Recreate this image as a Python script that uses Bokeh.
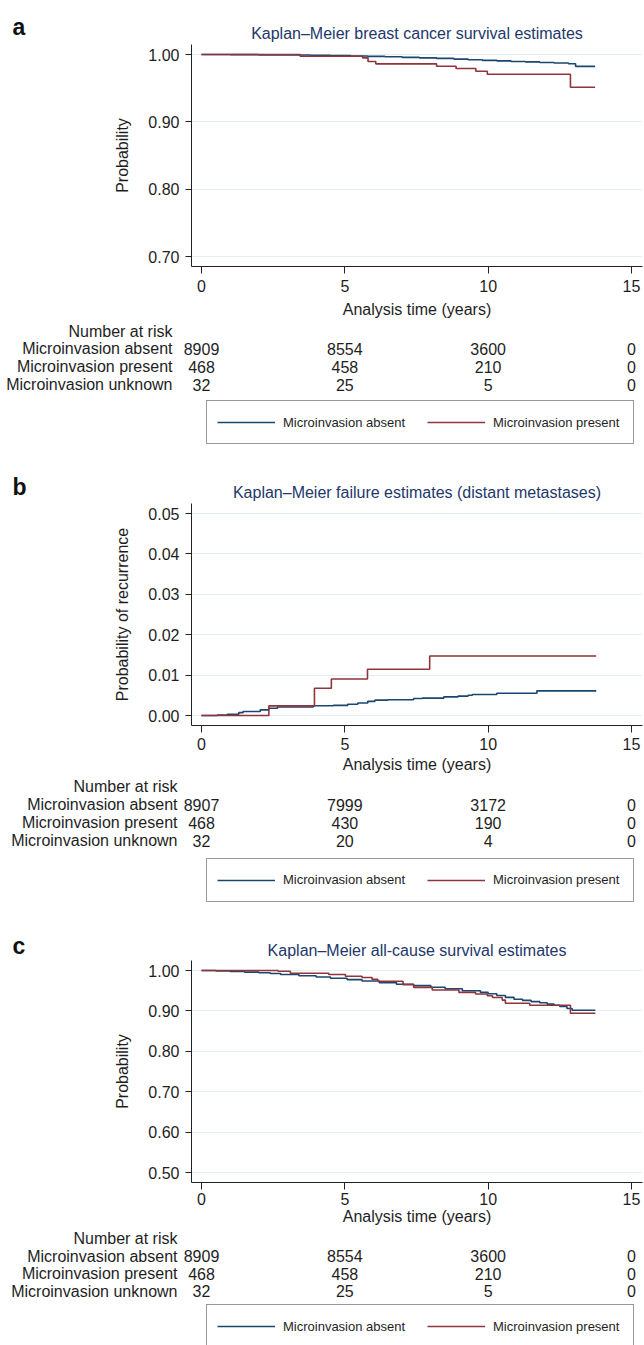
from bokeh.plotting import figure
from bokeh.models import Legend, LegendItem, FixedTicker, PrintfTickFormatter, Range1d
from bokeh.core.properties import value
from bokeh.layouts import column
from bokeh.embed import file_html
from bokeh.resources import INLINE

# ---------------- data ----------------
X_TICKS = [0, 5, 10, 15]
RISK_TIMES = [0, 5, 10, 15]
GROUPS = ["Microinvasion absent", "Microinvasion present", "Microinvasion unknown"]
LEGEND_LABELS = ["Microinvasion absent", "Microinvasion present"]
X_LABEL = "Analysis time (years)"
RISK_HEADER = "Number at risk"

# Panel a: breast cancer survival
A_TITLE = "Kaplan\u2013Meier breast cancer survival estimates"
A_YLABEL = "Probability"
A_YTICKS = [0.70, 0.80, 0.90, 1.00]
A_ABSENT_T = [0, 1.0, 2.0, 3.0, 3.8, 4.5, 5.2, 5.8, 6.4, 7.0, 7.6, 8.2, 8.8, 9.3, 9.8,
              10.3, 10.8, 11.3, 11.8, 12.3, 12.8, 13.05, 13.73]
A_ABSENT_S = [1.0, 0.9998, 0.9995, 0.9992, 0.9988, 0.9984, 0.9978, 0.9972, 0.9966, 0.9958,
              0.9950, 0.9942, 0.9932, 0.9922, 0.9913, 0.9905, 0.9897, 0.9890, 0.9882,
              0.9873, 0.9862, 0.9823, 0.9823]
A_PRESENT_T = [0, 3.44, 5.62, 5.81, 6.08, 8.20, 8.88, 9.57, 9.97, 12.87, 13.73]
A_PRESENT_S = [1.0, 0.9975, 0.9950, 0.9896, 0.9861, 0.9826, 0.9792, 0.9752, 0.9707, 0.9514, 0.9514]
A_RISK_ABSENT = [8909, 8554, 3600, 0]
A_RISK_PRESENT = [468, 458, 210, 0]
A_RISK_UNKNOWN = [32, 25, 5, 0]

# Panel b: failure (distant metastases)
B_TITLE = "Kaplan\u2013Meier failure estimates (distant metastases)"
B_YLABEL = "Probability of recurrence"
B_YTICKS = [0.00, 0.01, 0.02, 0.03, 0.04, 0.05]
B_ABSENT_T = [0, 0.55, 0.9, 1.3, 1.45, 2.05, 2.35, 2.65, 3.9, 4.6, 5.1, 5.45, 5.8, 6.05,
              6.5, 7.4, 7.7, 8.45, 8.95, 9.3, 9.45, 10.3, 11.7, 13.77]
B_ABSENT_F = [0.0, 0.0001, 0.0003, 0.0007, 0.0010, 0.0014, 0.0018, 0.0021, 0.0024, 0.0025,
              0.0028, 0.0031, 0.0035, 0.0038, 0.0039, 0.0042, 0.0043, 0.0046, 0.0048,
              0.0050, 0.0052, 0.0055, 0.0061, 0.0061]
B_PRESENT_T = [0, 2.35, 3.94, 4.53, 5.79, 7.96, 13.77]
B_PRESENT_F = [0.0, 0.00238, 0.00674, 0.00904, 0.01143, 0.01472, 0.01472]
B_RISK_ABSENT = [8907, 7999, 3172, 0]
B_RISK_PRESENT = [468, 430, 190, 0]
B_RISK_UNKNOWN = [32, 20, 4, 0]

# Panel c: all-cause survival
C_TITLE = "Kaplan\u2013Meier all-cause survival estimates"
C_YLABEL = "Probability"
C_YTICKS = [0.50, 0.60, 0.70, 0.80, 0.90, 1.00]
C_ABSENT_T = [0, 0.5, 1.0, 1.5, 2.0, 2.4, 2.76, 3.4, 4.0, 4.5, 5.08, 5.6, 6.2, 6.8, 7.4,
              8.0, 8.5, 9.1, 9.73, 10.0, 10.3, 10.6, 10.9, 11.2, 11.5, 11.8, 12.06, 12.3,
              12.5, 12.75, 12.93, 13.74]
C_ABSENT_S = [1.0, 0.9988, 0.9975, 0.996, 0.9945, 0.9925, 0.990, 0.987, 0.984, 0.981,
              0.9775, 0.974, 0.970, 0.966, 0.9625, 0.9585, 0.955, 0.950, 0.9458, 0.9425,
              0.938, 0.9335, 0.929, 0.926, 0.923, 0.920, 0.9167, 0.914, 0.911, 0.906,
              0.9017, 0.9017]
C_PRESENT_T = [0, 2.67, 3.1, 4.44, 5.02, 5.6, 5.95, 6.15, 7.03, 7.4, 8.05, 8.98, 9.56,
               9.97, 10.15, 10.49, 10.6, 11.45, 12.87, 13.74]
C_PRESENT_S = [1.0, 0.998, 0.9933, 0.990, 0.9858, 0.9825, 0.9783, 0.9733, 0.965, 0.9583,
               0.9517, 0.9458, 0.9417, 0.9375, 0.9333, 0.9267, 0.919, 0.914, 0.8942, 0.8942]
C_RISK_ABSENT = [8909, 8554, 3600, 0]
C_RISK_PRESENT = [468, 458, 210, 0]
C_RISK_UNKNOWN = [32, 25, 5, 0]

# ---------------- style / layout ----------------
FONT = "Liberation Sans"
BLUE = "#1a476f"
RED = "#90353b"
TEXT = "#1e1e1e"
TITLE_COLOR = "#22386a"
GRID = "#e6eef1"
FS = "16px"

W = 644
HEADER_H = 44
FRAME_H = 222
FRAME_LEFT = 191        # px from page left
FRAME_RIGHT = 642
X0_PX = 201             # where t = 0 sits
PX_PER_YR = 430.0 / 15.0
X_START = (FRAME_LEFT - X0_PX) / PX_PER_YR
X_END = (FRAME_RIGHT - X0_PX) / PX_PER_YR
T_START = (0 - X0_PX) / PX_PER_YR
T_END = (W - X0_PX) / PX_PER_YR
NAN = float("nan")


def blank_fig(height, x_range, y_range):
    f = figure(width=W, height=height, output_backend="svg", toolbar_location=None, tools="",
               x_range=x_range, y_range=y_range, x_axis_type=None, y_axis_type=None,
               min_border=0, frame_align=False)
    f.outline_line_color = None
    f.title.visible = False
    return f


def header_fig(letter, title, height, letter_base, title_base):
    h = blank_fig(height, Range1d(0, W), Range1d(height, 0))
    h.text(x=[12], y=[letter_base], text=[letter], text_font=value(FONT),
           text_font_size="23px", text_font_style="bold", text_color="#111111",
           text_baseline="alphabetic", text_align="left")
    h.text(x=[416.5], y=[title_base], text=[title], text_font=value(FONT),
           text_font_size=FS, text_color=TITLE_COLOR, text_baseline="alphabetic",
           text_align="center")
    return h


def plot_fig(ylabel, yticks, absent, present, lay):
    y0, y1 = yticks[0], yticks[-1]
    pad = (y1 - y0) * 10.0 / 202.0
    p = figure(width=W, height=FRAME_H + lay["border"], output_backend="svg",
               toolbar_location=None, tools="", frame_align=False,
               x_range=Range1d(X_START, X_END), y_range=Range1d(y0 - pad, y1 + pad),
               min_border_left=FRAME_LEFT, min_border_right=W - FRAME_RIGHT,
               min_border_top=0, min_border_bottom=lay["border"])
    p.title.visible = False
    p.outline_line_color = None
    p.xgrid.visible = False
    p.ygrid.ticker = FixedTicker(ticks=yticks)
    p.ygrid.grid_line_color = GRID
    p.ygrid.grid_line_width = 1
    for ax in (p.xaxis[0], p.yaxis[0]):
        ax.axis_line_color = "#222222"
        ax.axis_line_width = 1
        ax.major_tick_line_color = "#222222"
        ax.major_tick_in = 0
        ax.major_tick_out = 6
        ax.minor_tick_line_color = None
        ax.major_label_text_font = FONT
        ax.major_label_text_font_size = FS
        ax.major_label_text_color = TEXT
        ax.axis_label_text_font = FONT
        ax.axis_label_text_font_size = FS
        ax.axis_label_text_font_style = "normal"
        ax.axis_label_text_color = TEXT
    p.xaxis.ticker = FixedTicker(ticks=X_TICKS)
    p.xaxis.axis_label = X_LABEL
    p.xaxis.major_tick_out = 7
    p.xaxis.major_label_standoff = lay["s1"]
    p.xaxis.axis_label_standoff = lay["s2"]
    p.yaxis.ticker = FixedTicker(ticks=yticks)
    p.yaxis.formatter = PrintfTickFormatter(format="%.2f")
    p.yaxis.axis_label = ylabel
    p.yaxis.major_label_standoff = 6
    p.yaxis.axis_label_standoff = 14
    p.step(absent[0], absent[1], mode="after", line_color=BLUE, line_width=1.6)
    p.step(present[0], present[1], mode="after", line_color=RED, line_width=1.6)
    return p


def table_fig(risk, height, lay):
    b = lay["border"]
    t = blank_fig(height, Range1d(T_START, T_END), Range1d(height, 0))
    lab_x = (lay["labx"] - X0_PX) / PX_PER_YR
    common = dict(text_font=value(FONT), text_font_size=FS, text_color=TEXT,
                  text_baseline="middle")
    t.text(x=[lab_x], y=[lay["nar"] - b], text=[RISK_HEADER], text_align="right", **common)
    t.text(x=[lab_x] * 3, y=[r - b for r in lay["rows"]], text=GROUPS, text_align="right",
           **common)
    for gi in range(3):
        t.text(x=RISK_TIMES, y=[lay["rows"][gi] - b] * len(RISK_TIMES),
               text=[str(n) for n in risk[gi]], text_align="center", **common)
    # legend keys (no visible data; they only supply the legend swatches)
    r1 = t.line(x=[0, 1], y=[NAN, NAN], line_color=BLUE, line_width=1.6)
    r2 = t.line(x=[0, 1], y=[NAN, NAN], line_color=RED, line_width=1.6)
    box_top = lay["legtop"] - b
    legend = Legend(items=[LegendItem(label=LEGEND_LABELS[0], renderers=[r1]),
                           LegendItem(label=LEGEND_LABELS[1], renderers=[r2])],
                    location=(206, height - box_top - 42), orientation="horizontal",
                    padding=10, spacing=14, margin=0, glyph_width=58, glyph_height=22,
                    label_standoff=8, label_width=130, label_text_font=FONT,
                    label_text_font_size="13px", label_text_color=TEXT,
                    border_line_color="#333333", border_line_width=1,
                    background_fill_color="white", background_fill_alpha=1.0)
    t.add_layout(legend)
    return t


def panel(letter, title, ylabel, yticks, absent, present, risk, total_h, lay):
    h = header_fig(letter, title, HEADER_H, lay["letter_base"], lay["title_base"])
    p = plot_fig(ylabel, yticks, absent, present, lay)
    t = table_fig(risk, total_h - HEADER_H - FRAME_H - lay["border"], lay)
    return [h, p, t]


LAY_A = dict(border=55, s1=6, s2=6, nar=64.5, rows=[82.0, 100.2, 118.4], legtop=136,
             labx=172, letter_base=26, title_base=33)
LAY_B = dict(border=51, s1=5, s2=3, nar=61, rows=[79.3, 97.3, 115.3], legtop=134.5,
             labx=177, letter_base=27.5, title_base=33)
LAY_C = dict(border=46, s1=3, s2=0, nar=56, rows=[73.5, 91, 108.5], legtop=124,
             labx=177, letter_base=29, title_base=34)

rows = []
rows += panel("a", A_TITLE, A_YLABEL, A_YTICKS, (A_ABSENT_T, A_ABSENT_S),
              (A_PRESENT_T, A_PRESENT_S), [A_RISK_ABSENT, A_RISK_PRESENT, A_RISK_UNKNOWN],
              459, LAY_A)
rows += panel("b", B_TITLE, B_YLABEL, B_YTICKS, (B_ABSENT_T, B_ABSENT_F),
              (B_PRESENT_T, B_PRESENT_F), [B_RISK_ABSENT, B_RISK_PRESENT, B_RISK_UNKNOWN],
              457, LAY_B)
rows += panel("c", C_TITLE, C_YLABEL, C_YTICKS, (C_ABSENT_T, C_ABSENT_S),
              (C_PRESENT_T, C_PRESENT_S), [C_RISK_ABSENT, C_RISK_PRESENT, C_RISK_UNKNOWN],
              429, LAY_C)

layout = column(*rows, spacing=0)
open("out.html", "w").write(file_html(layout, INLINE))
